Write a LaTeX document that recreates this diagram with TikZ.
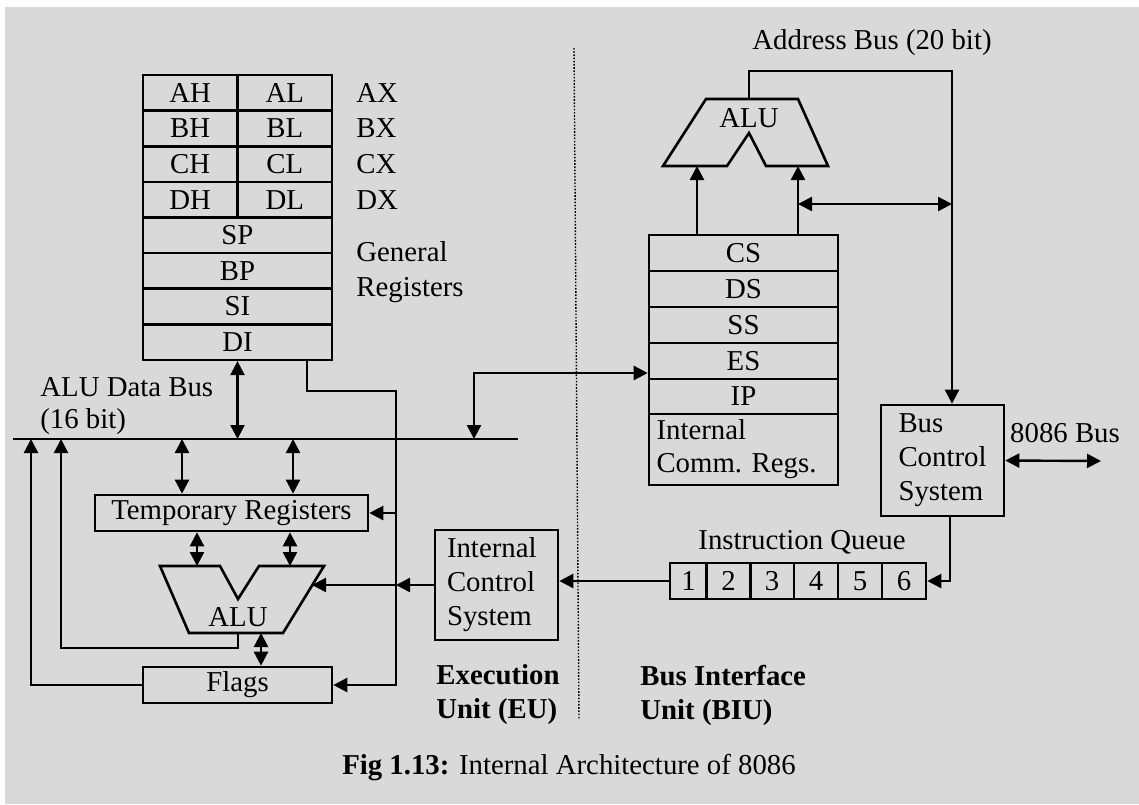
\documentclass[tikz,border=0pt]{standalone}
\usepackage{fontspec}
\setmainfont{Liberation Serif}
\usetikzlibrary{arrows.meta,positioning,calc}
\definecolor{figgray}{RGB}{217,217,217}

\begin{document}
\begin{tikzpicture}[x=0.5pt,y=-0.5pt,>={Triangle[length=7pt,width=7pt]},
  font=\fontsize{14.4pt}{17pt}\selectfont,
  wire/.style={line width=1.2pt},
  reg/.style={draw,line width=1.3pt,minimum height=17.8pt,inner sep=0pt},
  half/.style={reg,minimum width=47.25pt},
  full/.style={reg,minimum width=94.5pt},
  qcell/.style={reg,minimum height=18pt,minimum width=22pt},
  block/.style={draw,line width=1.3pt,align=left},
  lbl/.style={anchor=west,align=left,inner sep=0pt}]
  \useasboundingbox (0,0) rectangle (1139,804);
  \fill[figgray] (5,7) rectangle (1139,804);

  % general registers
  \node[half] (ah) at (190.25,92.8) {AH};
  \node[half] (al) at (284.75,92.8) {AL};
  \node[half] (bh) at (190.25,128.4) {BH};
  \node[half] (bl) at (284.75,128.4) {BL};
  \node[half] (ch) at (190.25,164) {CH};
  \node[half] (cl) at (284.75,164) {CL};
  \node[half] (dh) at (190.25,199.6) {DH};
  \node[half] (dl) at (284.75,199.6) {DL};
  \node[full] (sp) at (237.5,235.2) {SP};
  \node[full] (bp) at (237.5,270.8) {BP};
  \node[full] (si) at (237.5,306.4) {SI};
  \node[full] (di) at (237.5,342) {DI};
  \node[lbl] (ax) at (356,92.8) {AX};
  \node[lbl] (bx) at (356,128.4) {BX};
  \node[lbl] (cx) at (356,164) {CX};
  \node[lbl] (dx) at (356,199.6) {DX};
  \node[lbl] (genreg) at (356,272.5) {General\\[0.5pt]Registers};
  \node[lbl] (databus) at (40,406) {ALU Data Bus\\[-1pt](16 bit)};

  % ALU data bus
  \coordinate (busL) at (13,439);
  \coordinate (busR) at (518,439);
  \draw[line width=0.9pt] (busL) -- (busR);
  \draw[wire,<->] (di.south) -- (di.south |- busL);

  % execution unit
  \node[reg,minimum width=136.5pt,minimum height=18pt] (tmp) at (231.5,513) {Temporary Registers};
  \node[full,minimum height=18pt] (flags) at (237.5,685) {Flags};
  \draw[line width=1.3pt] (160,566) -- (220,566) -- (238,599) -- (259,566) -- (324,566)
    -- (283,633) -- (189,633) -- cycle;
  \node (alueu) at (238,617) {ALU};
  \node[block,text width=49.5pt,inner xsep=6pt,minimum height=55pt] (ics) at (496.5,585) {Internal\\Control\\System};
  \node[lbl] (eu) at (436,695) {\textbf{Execution}\\\textbf{Unit (EU)}};

  \coordinate (b0) at (31,439);
  \coordinate (b1) at (61,439);
  \coordinate (b2) at (182,439);
  \coordinate (b3) at (293,439);
  \coordinate (b4) at (474,439);
  \coordinate (ai1) at (197,566);
  \coordinate (ai2) at (290,566);
  \coordinate (ao1) at (238,633);
  \coordinate (ao2) at (261,633);
  \coordinate (air) at (312,585);
  \coordinate (ctlc) at (396,391);
  \draw[wire,<->] (b2) -- (b2 |- tmp.north);
  \draw[wire,<->] (b3) -- (b3 |- tmp.north);
  \draw[wire,<->] (ai1 |- tmp.south) -- (ai1);
  \draw[wire,<->] (ai2 |- tmp.south) -- (ai2);
  \draw[wire,->] (ao1) -- ++(0,15) -| (b1);
  \draw[wire,<->] (ao2) -- (ao2 |- flags.north);
  \draw[wire,->] (flags.west) -| (b0);
  \draw[wire,->] ([xshift=34.75pt]di.south) |- (ctlc) -- (ctlc |- flags.east) -- (flags.east);
  \draw[wire,->] (ctlc |- tmp.east) -- (tmp.east);
  \draw[wire,->] (ics.west) -- (ctlc |- ics.west);
  \draw[wire,->] (ctlc |- ics.west) -- (air);

  % divider
  \draw[line width=0.7pt,dash pattern=on 0.8pt off 0.8pt] (574,48) -- (579,720);

  % bus interface unit
  \node[full,minimum height=18pt] (cs) at (743.5,253) {CS};
  \node[full,minimum height=18pt] (ds) at (743.5,289) {DS};
  \node[full,minimum height=18pt] (ss) at (743.5,325) {SS};
  \node[full,minimum height=18pt] (es) at (743.5,361) {ES};
  \node[full,minimum height=17.5pt] (ip) at (743.5,396.5) {IP};
  \node[reg,minimum height=35.5pt,text width=87pt,inner xsep=3.75pt,align=left] (icr) at (743.5,449.5) {Internal\\[-0.5pt]Comm.~Regs.};
  \draw[wire,<->] (b4) |- ([yshift=-6pt]es.west);

  \draw[line width=1.3pt] (706,99) -- (798,99) -- (828,166) -- (766,166) -- (749,133)
    -- (727,166) -- (663,166) -- cycle;
  \node (alubiu) at (749,118) {ALU};
  \node (addrbus) at (872,43) {Address Bus (20 bit)};

  \node[block,text width=44pt,inner xsep=8.75pt,minimum height=55.5pt] (bcs) at (942.5,460.5) {Bus\\Control\\System};
  \node (extbus) at (1065,433) {8086 Bus};

  \node (iqlabel) at (802,542) {Instruction Queue};
  \node[qcell,minimum width=18.5pt] (q1) at (688.5,581) {1};
  \node[qcell] (q2) at (728.5,581) {2};
  \node[qcell] (q3) at (772,581) {3};
  \node[qcell] (q4) at (816,581) {4};
  \node[qcell] (q5) at (860,581) {5};
  \node[qcell] (q6) at (904,581) {6};
  \node[lbl] (biu) at (640,695) {\textbf{Bus Interface}\\\textbf{Unit (BIU)}};

  \coordinate (si1) at (697,166);
  \coordinate (si2) at (798,166);
  \coordinate (aout) at (749,99);
  \coordinate (abus) at (952,71);
  \coordinate (tap) at (798,204);
  \coordinate (ext) at (1101,461);
  \draw[wire,->] (si1 |- cs.north) -- (si1);
  \draw[wire,->] (si2 |- cs.north) -- (si2);
  \draw[wire,->] (aout) |- (abus) -- (abus |- bcs.north);
  \draw[wire,<->] (tap) -- (tap -| abus);
  \draw[wire,<->] (bcs.east) -- (ext);
  \draw[wire,->] ([xshift=3.75pt]bcs.south) |- (q6.east);
  \draw[wire,->] (q1.west) -- (ics.east |- q1.west);

  % caption
  \node (caption) at (569,768) {\textbf{Fig 1.13:} Internal Architecture of 8086};
\end{tikzpicture}
\end{document}
